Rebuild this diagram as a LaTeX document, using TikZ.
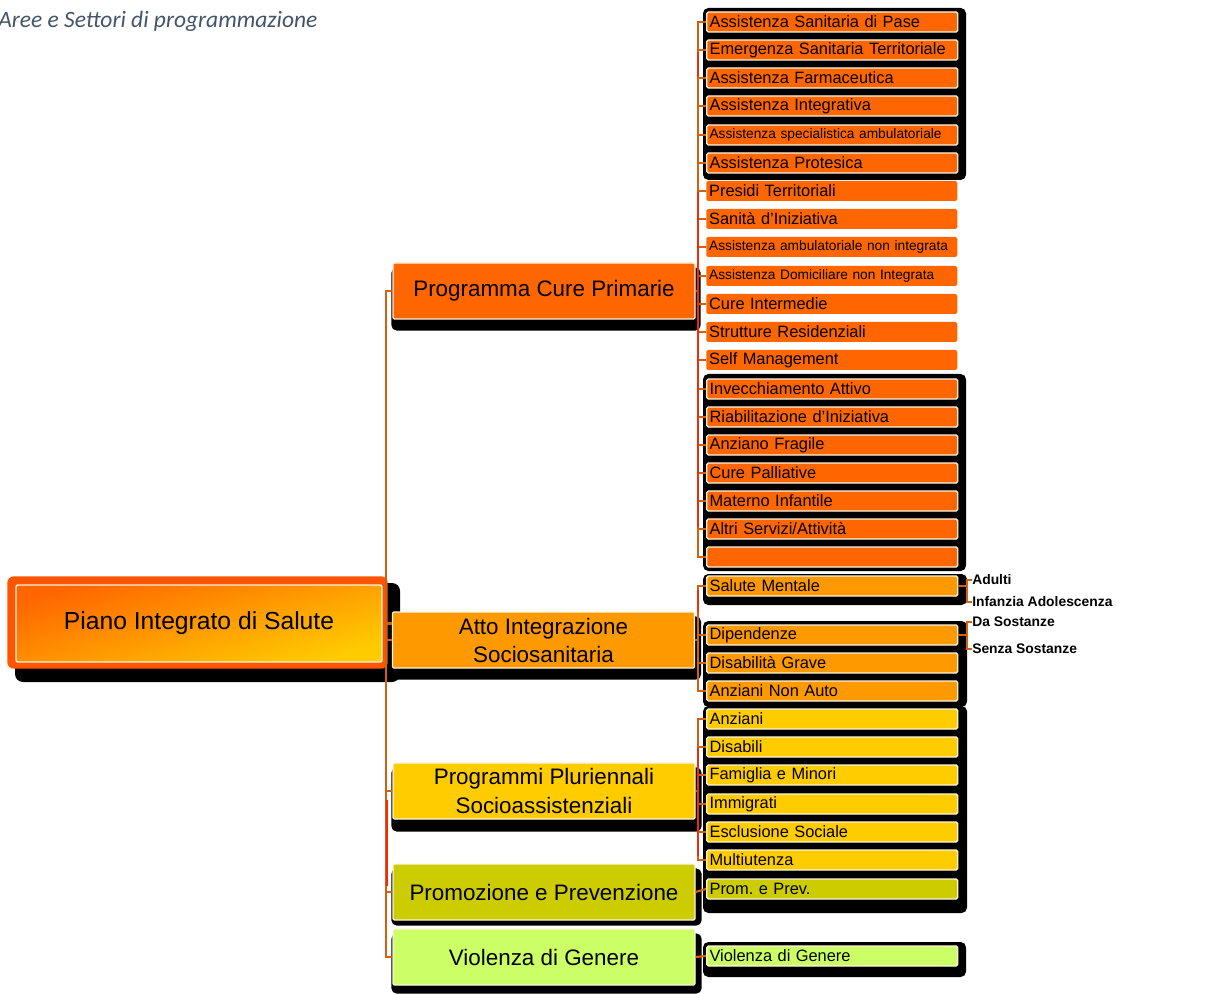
\documentclass[tikz,border=0pt]{standalone}
\usepackage{fontspec}
\setmainfont{Liberation Sans}
\newfontfamily\titlefont{Carlito}
\usetikzlibrary{backgrounds}
\definecolor{cpri}{HTML}{FF6600}
\definecolor{catto}{HTML}{FF9900}
\definecolor{cpluri}{HTML}{FFCC00}
\definecolor{cprom}{HTML}{CCCC00}
\definecolor{cviol}{HTML}{CCFF66}
\definecolor{cream}{HTML}{FFF4E0}
\definecolor{connc}{HTML}{D2600F}
\definecolor{redc}{HTML}{F02A0A}
\definecolor{rootframe}{HTML}{FF5500}
\definecolor{titlec}{HTML}{44546A}
\newcommand{\myleaf}{\fontsize{12.3}{13}\selectfont}
\newcommand{\mysmallleaf}{\fontsize{10.3}{11}\selectfont}
\newcommand{\myltwo}{\fontsize{16.8}{19}\selectfont}
\newcommand{\myroot}{\fontsize{18.5}{21}\selectfont}
\newcommand{\mysub}{\bfseries\fontsize{10.4}{11}\selectfont}
\tikzset{
  leafbase/.style={anchor=west, minimum width=188.25pt, minimum height=15pt,
    text width=184pt, align=left, inner xsep=2pt, inner ysep=0pt,
    font=\myleaf, rounded corners=1.2pt},
  leafbox/.style={leafbase, draw=cream, line width=1.1pt},
  leafplain/.style={leafbase, draw=none},
  smalltext/.style={font=\mysmallleaf},
  ltwo/.style={minimum width=226.5pt, minimum height=42pt, draw=cream,
    line width=0.9pt, font=\myltwo, align=center, inner sep=0pt,
    rounded corners=1pt},
  rootbox/.style={minimum width=274.5pt, minimum height=57.75pt, draw=cream,
    line width=1.1pt, top color=cpri, bottom color=cpluri, shading angle=16,
    font=\myroot, inner sep=0pt, rounded corners=1.5pt},
  conn/.style={draw=connc, line width=1.6pt},
  connred/.style={draw=redc, line width=1.1pt},
  shadowfill/.style={fill=black, rounded corners=4pt},
  sublabel/.style={anchor=west, font=\mysub, inner sep=0pt},
}
\begin{document}
\frenchspacing
\begin{tikzpicture}[x=0.75pt,y=-0.75pt]
\useasboundingbox (0,0) rectangle (1216,994);

% title
\node[anchor=base west, inner sep=0pt, font=\titlefont\itshape\fontsize{17.6}{19}\selectfont, text=titlec] (title) at (-2,28) {Aree e Settori di programmazione};

% root
\node[rootbox] (R) at (199,623.5) {Piano Integrato di Salute};

% level 2
\node[ltwo, fill=cpri] (P1) at (544,291) {Programma Cure Primarie};
\node[ltwo, fill=catto] (P2) at (543.5,640) {Atto Integrazione\\[2pt]Sociosanitaria};
\node[ltwo, fill=cpluri] (P3) at (544,791) {Programmi Pluriennali\\[3pt]Socioassistenziali};
\node[ltwo, fill=cprom] (P4) at (544,892) {Promozione e Prevenzione};
\node[ltwo, fill=cviol] (P5) at (544,957) {Violenza di Genere};

% leaves: Programma Cure Primarie
\node[leafbox, fill=cpri] (A0) at (706,22) {Assistenza Sanitaria di Pase};
\node[leafbox, fill=cpri] (A1) at (706,50) {Emergenza Sanitaria Territoriale};
\node[leafbox, fill=cpri] (A2) at (706,78) {Assistenza Farmaceutica};
\node[leafbox, fill=cpri] (A3) at (706,106) {Assistenza Integrativa};
\node[leafbox, fill=cpri, smalltext] (A4) at (706,135) {Assistenza specialistica ambulatoriale};
\node[leafbox, fill=cpri] (A5) at (706,163) {Assistenza Protesica};
\node[leafplain, fill=cpri] (A6) at (706,191) {Presidi Territoriali};
\node[leafplain, fill=cpri] (A7) at (706,219) {Sanità d'Iniziativa};
\node[leafplain, fill=cpri, smalltext] (A8) at (706,247) {Assistenza ambulatoriale non integrata};
\node[leafplain, fill=cpri, smalltext] (A9) at (706,276) {Assistenza Domiciliare non Integrata};
\node[leafplain, fill=cpri] (A10) at (706,304) {Cure Intermedie};
\node[leafplain, fill=cpri] (A11) at (706,332) {Strutture Residenziali};
\node[leafplain, fill=cpri] (A12) at (706,360) {Self Management};
\node[leafbox, fill=cpri] (A13) at (706,389) {Invecchiamento Attivo};
\node[leafbox, fill=cpri] (A14) at (706,417) {Riabilitazione d'Iniziativa};
\node[leafbox, fill=cpri] (A15) at (706,445) {Anziano Fragile};
\node[leafbox, fill=cpri] (A16) at (706,473) {Cure Palliative};
\node[leafbox, fill=cpri] (A17) at (706,501) {Materno Infantile};
\node[leafbox, fill=cpri] (A18) at (706,529) {Altri Servizi/Attività};
\node[leafbox, fill=cpri] (A19) at (706,557) {};

% leaves: Atto Integrazione
\node[leafbox, fill=catto] (B0) at (706,586) {Salute Mentale};
\node[leafbox, fill=catto] (B1) at (706,635) {Dipendenze};
\node[leafbox, fill=catto] (B2) at (706,663) {Disabilità Grave};
\node[leafbox, fill=catto] (B3) at (706,691) {Anziani Non Auto};

% leaves: Programmi Pluriennali
\node[leafbox, fill=cpluri] (C0) at (706,719) {Anziani};
\node[leafbox, fill=cpluri] (C1) at (706,747) {Disabili};
\node[leafbox, fill=cpluri] (C2) at (706,775) {Famiglia e Minori};
\node[leafbox, fill=cpluri] (C3) at (706,804) {Immigrati};
\node[leafbox, fill=cpluri] (C4) at (706,832) {Esclusione Sociale};
\node[leafbox, fill=cpluri] (C5) at (706,860) {Multiutenza};

\node[leafbox, fill=cprom] (D0) at (706,889) {Prom. e Prev.};
\node[leafbox, fill=cviol] (E0) at (706,956) {Violenza di Genere};

% sub labels
\node[sublabel] (S1) at (972,580) {Adulti};
\node[sublabel] (S2) at (972,602) {Infanzia Adolescenza};
\node[sublabel] (S3) at (972,622) {Da Sostanze};
\node[sublabel] (S4) at (972,649) {Senza Sostanze};

% background: shadows and frames
\begin{scope}[on background layer]
  \fill[shadowfill, rounded corners=6pt] (15,583) rectangle (400,682);
  \fill[rootframe, rounded corners=5pt] ([shift={(-8,-8)}]R.north west) rectangle ([shift={(5,6)}]R.south east);
  \fill[shadowfill] ([shift={(-1,5)}]P1.north west) rectangle ([shift={(5,11)}]P1.south east);
  \fill[shadowfill] ([shift={(-1,5)}]P2.north west) rectangle ([shift={(6,11)}]P2.south east);
  \fill[shadowfill] ([shift={(-1,5)}]P3.north west) rectangle ([shift={(6,12)}]P3.south east);
  \fill[shadowfill] ([shift={(-1,5)}]P4.north west) rectangle ([shift={(6,5)}]P4.south east);
  \fill[shadowfill] ([shift={(-1,5)}]P5.north west) rectangle ([shift={(6,8)}]P5.south east);
  % leaf group backdrops
  \fill[shadowfill] (703,8) rectangle (966,180);
  \fill[shadowfill] (703,374) rectangle (966,571);
  \fill[shadowfill] (703,574) rectangle (967,605);
  \fill[shadowfill] (703,621) rectangle (967,707);
  \fill[shadowfill] (703,706) rectangle (967,913);
  \fill[shadowfill] (703,942) rectangle (966,977);
\end{scope}

% trunk
\draw[conn] (P1.west) -- ++(-6,0) |- (P5.west);
\draw[connred] (387,800) -- (387,886);
\draw[conn] (R.east) -- (R.east -| P1.west);
\foreach \n in {P2,P3,P4} \draw[conn] (\n.west) -- ++(-6,0);

% bus for Programma Cure Primarie
\draw[conn] (P1.east) -- ++(3,0);
\draw[conn] (A0.west) -- ++(-8,0) |- (A19.west);
\foreach \n in {A1,A2,A3,A4,A5,A6,A7,A8,A9,A10,A11,A12,A13,A14,A15,A16,A17,A18}
  \draw[conn] (\n.west) -- ++(-8,0);
\draw[connred] (698,52) -- (698,77);
\draw[connred] (698,192) -- (698,527);

% bus for Atto
\draw[conn] (P2.east) -- ++(3,0);
\draw[conn] (B0.west) -- ++(-8,0) |- (B3.west);
\foreach \n in {B1,B2} \draw[conn] (\n.west) -- ++(-8,0);
\draw[connred] (698,590) -- (698,612);

% bus for Programmi
\draw[conn] (P3.east) -- ++(3,0);
\draw[conn] (C0.west) -- ++(-8,0) |- (C5.west);
\foreach \n in {C1,C2,C3,C4} \draw[conn] (\n.west) -- ++(-8,0);
\draw[connred] (698,748) -- (698,856);

% single leaves
\draw[conn] (P4.east) -- (D0.west);
\draw[conn] (P5.east) -- (E0.west);

% brackets to sub labels
\draw[conn, line width=1.3pt] (S1.west) -- ++(-5,0) |- (S2.west);
\draw[conn, line width=1.3pt] (B0.east) -- ++(10,0);
\draw[conn, line width=1.3pt] (S3.west) -- ++(-5,0) |- (S4.west);
\draw[conn, line width=1.3pt] (B1.east) -- ++(10,0);
\end{tikzpicture}
\end{document}
